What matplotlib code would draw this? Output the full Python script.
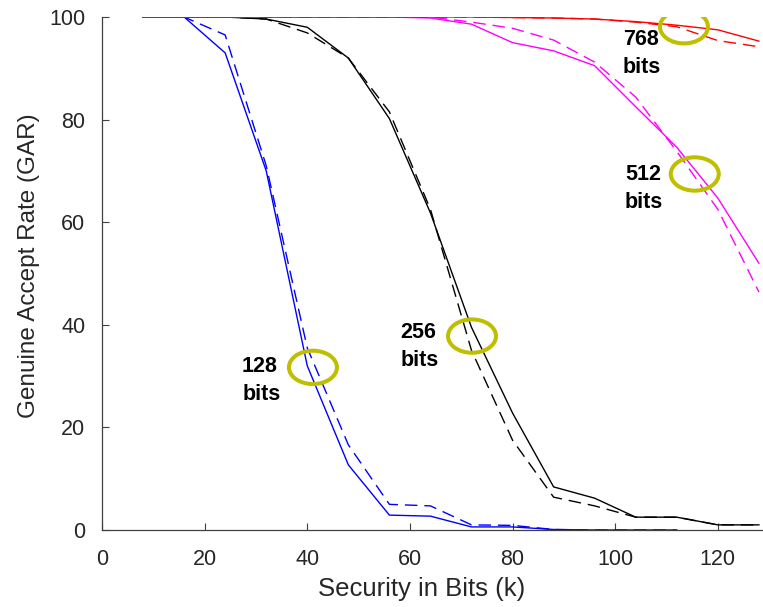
import matplotlib
matplotlib.use("Agg")
import matplotlib.pyplot as plt
from matplotlib.patches import Ellipse

plt.rcParams['font.family'] = ['Liberation Sans', 'DejaVu Sans']

# ---- data ----
x_bits = [8, 16, 24, 32, 40, 48, 56, 64, 72, 80, 88, 96, 104, 112, 120, 128]
x_128 = [8, 16, 24, 32, 40, 48, 56, 64, 72, 80, 88, 96, 104, 112]

gar128_solid = [100, 100, 93, 70, 32, 12.7, 2.9, 2.7, 0.6, 0.6, 0.1, 0, 0, 0]
gar128_dash = [100, 100, 96.5, 71, 35.5, 16.6, 5.0, 4.7, 1.0, 0.9, 0.1, 0, 0, 0]

gar256_solid = [100, 100, 100, 99.6, 98, 92, 80.2, 61.8, 39.5, 22.8, 8.4, 6.2, 2.5, 2.5, 1.0, 1.0]
gar256_dash = [100, 100, 100, 99.6, 96.9, 92, 81.5, 62.5, 35, 17.5, 6.4, 4.7, 2.5, 2.5, 1.0, 1.0]

gar512_solid = [100, 100, 100, 100, 100, 100, 100, 99.8, 98.6, 95, 93.4, 90.5, 82.5, 74.6, 64.7, 52]
gar512_dash = [100, 100, 100, 100, 100, 100, 100, 100, 99, 97.8, 95.5, 91.2, 84.4, 73.8, 62.5, 46.4]

gar768_solid = [100, 100, 100, 100, 100, 100, 100, 100, 100, 99.9, 99.8, 99.6, 99.1, 98.4, 97.5, 95.3]
gar768_dash = [100, 100, 100, 100, 100, 100, 100, 100, 100, 99.9, 99.8, 99.6, 99.0, 98.1, 95.4, 94.2]

labels = ["128", "256", "512", "768"]
label_xy = [(27.3, 30.8), (58.1, 37.4), (101.9, 68.2), (101.5, 94.5)]
circle_xy = [(41.1, 31.7), (72.1, 37.8), (115.5, 69.4), (113.4, 98.1)]

xticks = [0, 20, 40, 60, 80, 100, 120]
yticks = [0, 20, 40, 60, 80, 100]

# ---- figure ----
fig = plt.figure(figsize=(7.63, 6.07), dpi=100)
ax = fig.add_axes([102 / 763, 77 / 607, 661 / 763, 513 / 607])

lw = 1.0
dash = (9, 5)
ax.plot(x_128, gar128_solid, color='#0000ff', lw=lw)
ax.plot(x_128, gar128_dash, color='#0000ff', lw=lw, dashes=dash)
ax.plot(x_bits, gar256_solid, color='#000000', lw=lw)
ax.plot(x_bits, gar256_dash, color='#000000', lw=lw, dashes=dash)
ax.plot(x_bits, gar512_solid, color='#ff00ff', lw=lw)
ax.plot(x_bits, gar512_dash, color='#ff00ff', lw=lw, dashes=dash)
ax.plot(x_bits, gar768_solid, color='#ff0000', lw=lw)
ax.plot(x_bits, gar768_dash, color='#ff0000', lw=lw, dashes=dash)

for (cx, cy) in circle_xy:
    ax.add_patch(Ellipse((cx, cy), width=9.35, height=6.5, fill=False,
                         edgecolor='#bfbf00', lw=2.9, zorder=5))

for lab, (tx, ty) in zip(labels, label_xy):
    ax.text(tx, ty, lab, fontsize=15.5, fontweight='bold', ha='left',
            va='baseline', color='black', zorder=6)
    ax.text(tx, ty - 5.4, "bits", fontsize=15.5, fontweight='bold', ha='left',
            va='baseline', color='black', zorder=6)

ax.set_xlim(0, 128.8)
ax.set_ylim(0, 100)
ax.set_xticks(xticks)
ax.set_yticks(yticks)

for s in ['top', 'right']:
    ax.spines[s].set_visible(False)
for s in ['left', 'bottom']:
    ax.spines[s].set_color('#404040')
    ax.spines[s].set_linewidth(0.9)

ax.tick_params(axis='both', direction='in', length=5, width=0.8,
               color='#404040', labelcolor='#262626', labelsize=15.5)
ax.tick_params(axis='x', pad=13.5)
ax.tick_params(axis='y', pad=12)

ax.set_xlabel("Security in Bits (k)", fontsize=18.5, color='#262626')
ax.set_ylabel("Genuine Accept Rate (GAR)", fontsize=17.5, color='#262626')
ax.xaxis.set_label_coords(0.483, -0.0916)
ax.yaxis.set_label_coords(-0.094, 0.515)

fig.savefig("out.png", dpi=100)
